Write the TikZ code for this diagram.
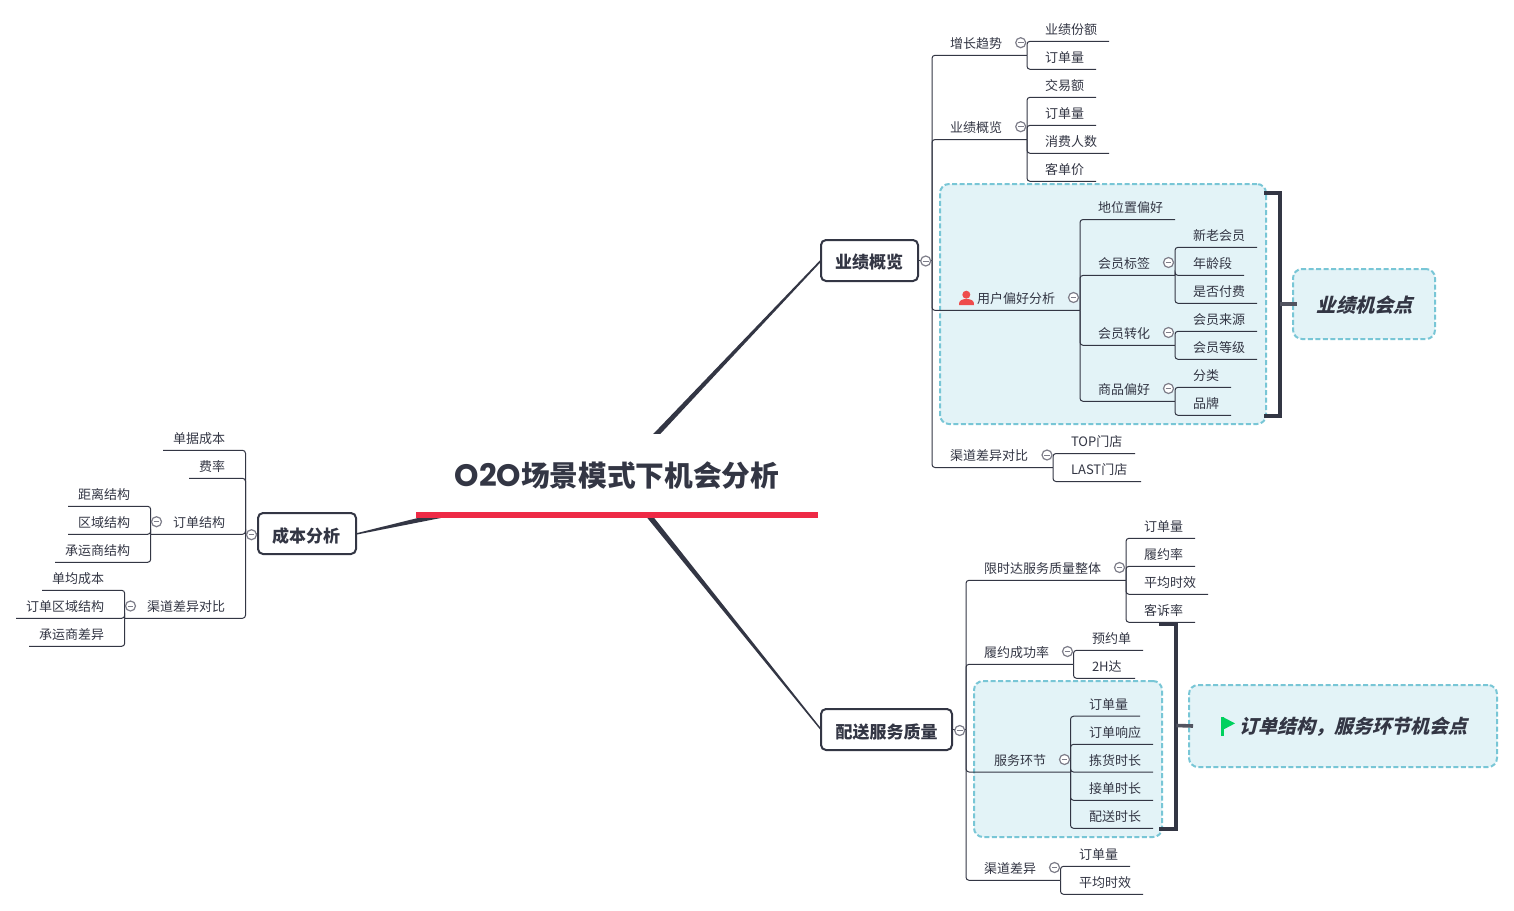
\documentclass[tikz,border=0pt]{standalone}
\usepackage{fontspec}
\setmainfont{Noto Sans CJK SC}
\newfontfamily\slbold[BoldFeatures={FakeSlant=0.25}]{Noto Sans CJK SC}
\newfontfamily\titlelatin{Poppins}
\definecolor{ink}{HTML}{333644}
\definecolor{teal}{HTML}{78C6D6}
\definecolor{pale}{HTML}{E3F3F7}
\definecolor{knob}{HTML}{7E7E8A}
\definecolor{rule}{HTML}{EE2A46}
\definecolor{usr}{HTML}{EE4C4C}
\definecolor{flagc}{HTML}{00D15E}
\tikzset{
  x=1pt,y=-1pt,
  conn/.style={draw=ink,line width=1pt,rounded corners=3pt},
  lbl/.style={inner sep=0pt,outer sep=0pt,text=ink,font=\fontsize{13}{13}\selectfont},
  topicbox/.style={draw=ink,line width=2pt,rounded corners=5pt,fill=white,inner sep=0pt,outer sep=0pt},
  topictext/.style={inner sep=0pt,outer sep=0pt,text=ink,font=\fontsize{17}{17}\selectfont\bfseries},
  zone/.style={draw=teal,fill=pale,line width=2pt,dash pattern=on 5pt off 2.5pt,rounded corners=9pt,inner sep=0pt,outer sep=0pt},
  knobc/.style={circle,draw=knob,line width=1.2pt,fill=white,minimum size=10pt,inner sep=0pt,outer sep=0pt,
    path picture={\draw[knob,line width=1pt] ([xshift=-2.8pt]path picture bounding box.center) -- ([xshift=2.8pt]path picture bounding box.center);}},
  brk/.style={draw=ink,line width=4pt,line join=miter},
  stub/.style={draw=ink!85!white,line width=3.6pt},
  taper/.style={fill=ink,draw=none},
}
% id, parent, x end, y, text x, text: text right of its x
\newcommand{\rtw}[6]{\node[lbl,anchor=west] (#1) at (#5,{#4-11.6}) {#6};
  \coordinate (#1-e) at (#3,#4);
  \draw[conn] (#2) |- (#1-e);}
% same, text ends at its x
\newcommand{\ltw}[6]{\node[lbl,anchor=east] (#1) at (#5,{#4-11.6}) {#6};
  \coordinate (#1-e) at (#3,#4);
  \draw[conn] (#2) |- (#1-e);}
\newcommand{\knb}[3]{\node[knobc] (#1) at (#2,#3) {};}
\begin{document}
\begin{tikzpicture}
\useasboundingbox (0,0) rectangle (1514,910);
\fill[white] (0,0) rectangle (1514,910);

% tapered main connectors
\coordinate (hub) at (617,476);
\coordinate (hubA1) at (614.8,474); \coordinate (hubA2) at (619.2,478);
\coordinate (hubB1) at (614.6,477.9); \coordinate (hubB2) at (619.4,474.1);
\coordinate (hubC1) at (615.6,469); \coordinate (hubC2) at (618.4,483);

% topic boxes
\node[topicbox,minimum width=97pt,minimum height=41pt] (perf) at (869.5,260.5) {};
\node[topicbox,minimum width=131pt,minimum height=41pt] (svc) at (886.5,729.5) {};
\node[topicbox,minimum width=98pt,minimum height=41pt] (cost) at (307,533.5) {};
\node[topictext] (perfT) at (869,262) {业绩概览};
\node[topictext] (svcT) at (886.5,732) {配送服务质量};
\node[topictext] (costT) at (306,536) {成本分析};

\fill[taper] (hubA1) -- ([xshift=-.6pt,yshift=.6pt]perf.west) -- ([xshift=.6pt,yshift=-.6pt]perf.west) -- (hubA2) -- cycle;
\fill[taper] (hubB1) -- ([xshift=-.5pt,yshift=-.5pt]svc.west) -- ([xshift=.5pt,yshift=.5pt]svc.west) -- (hubB2) -- cycle;
\fill[taper] (hubC1) -- ([yshift=.2pt]cost.east) -- ([yshift=-1.2pt]cost.east) -- (hubC2) -- cycle;

% central topic
\node[fill=white,inner sep=0pt,outer sep=0pt,minimum width=402pt,minimum height=78pt] (root) at (617,473) {};
\node[text=ink,inner sep=0pt,font=\fontsize{28.7}{29}\selectfont\bfseries] (title) at (617,476) {{\titlelatin\fontsize{31}{31}\selectfont\bfseries O2O}场景模式下机会分析};
\fill[rule] (416,512) rectangle (818,518);

% highlighted zones
\node[zone,minimum width=326pt,minimum height=240pt] (zoneA) at (1103,304) {};
\node[zone,minimum width=188pt,minimum height=156pt] (zoneB) at (1068,759) {};
\node[zone,minimum width=142pt,minimum height=70pt] (noteA) at (1364,304) {};
\node[zone,minimum width=308pt,minimum height=82pt] (noteB) at (1343,726) {};

% ---- upper right
\coordinate (perfJ) at (932,260.5);
\draw[conn] (perf.east) -- (perfJ);
\rtw{t1}{perfJ}{1027}{55.3}{950}{增长趋势}
\rtw{t1a}{t1-e}{1109}{41.3}{1045}{业绩份额}
\rtw{t1b}{t1-e}{1096}{69.3}{1045}{订单量}
\knb{k1}{1020.7}{42.7}
\rtw{t2}{perfJ}{1027}{139.5}{950}{业绩概览}
\rtw{t2a}{t2-e}{1096}{97.3}{1045}{交易额}
\rtw{t2b}{t2-e}{1096}{125.3}{1045}{订单量}
\rtw{t2c}{t2-e}{1109}{153.3}{1045}{消费人数}
\rtw{t2d}{t2-e}{1096}{181.3}{1045}{客单价}
\knb{k2}{1020.7}{126.7}
\rtw{t3}{perfJ}{1080}{310.4}{977}{用户偏好分析}
\knb{k3}{1073.5}{297.5}
\fill[usr] (966.3,294.7) circle (4pt);
\fill[usr] (959,305) .. controls (958.5,300.5) and (962,299) .. (966.5,299) .. controls (971,299) and (974.5,300.5) .. (974,305) -- cycle;
\rtw{t3a}{t3-e}{1175}{219.5}{1098}{地位置偏好}
\rtw{t3b}{t3-e}{1175}{275.4}{1098}{会员标签}
\rtw{t3b1}{t3b-e}{1257}{247.3}{1193}{新老会员}
\rtw{t3b2}{t3b-e}{1244}{275.4}{1193}{年龄段}
\rtw{t3b3}{t3b-e}{1257}{303.3}{1193}{是否付费}
\knb{k4}{1168.5}{262.5}
\rtw{t3c}{t3-e}{1175}{345.3}{1098}{会员转化}
\rtw{t3c1}{t3c-e}{1257}{331.3}{1193}{会员来源}
\rtw{t3c2}{t3c-e}{1257}{359.3}{1193}{会员等级}
\knb{k5}{1168.5}{332.5}
\rtw{t3d}{t3-e}{1175}{401.3}{1098}{商品偏好}
\rtw{t3d1}{t3d-e}{1231}{387.3}{1193}{分类}
\rtw{t3d2}{t3d-e}{1231}{415.3}{1193}{品牌}
\knb{k6}{1168.5}{388.5}
\rtw{t4}{perfJ}{1053}{467.5}{950}{渠道差异对比}
\rtw{t4a}{t4-e}{1135}{453.5}{1071}{TOP门店}
\rtw{t4b}{t4-e}{1141}{481.5}{1071}{LAST门店}
\knb{k7}{1047}{455}
\knb{k8}{925.7}{261}

% bracket A
\coordinate (ba1) at (1264,192.5); \coordinate (ba2) at (1280,192.5);
\coordinate (ba3) at (1280,416); \coordinate (ba4) at (1264,416);
\coordinate (bam) at (1280,304);
\draw[brk] (ba1) -- (ba2) -- (ba3) -- (ba4);
\draw[stub] (bam) -- ([xshift=4pt]noteA.west);
\node[text=ink,inner sep=0pt,font=\fontsize{19.3}{20}\selectfont] (noteAt) at (1365,305) {\slbold\bfseries 业绩机会点};

% ---- lower right
\coordinate (svcJ) at (966,729.5);
\draw[conn] (svc.east) -- (svcJ);
\rtw{s1}{svcJ}{1126}{580.3}{984}{限时达服务质量整体}
\rtw{s1a}{s1-e}{1195}{538.3}{1144}{订单量}
\rtw{s1b}{s1-e}{1195}{566.3}{1144}{履约率}
\rtw{s1c}{s1-e}{1208}{594.3}{1144}{平均时效}
\rtw{s1d}{s1-e}{1195}{622.3}{1144}{客诉率}
\knb{m1}{1119.5}{567.5}
\rtw{s2}{svcJ}{1073.5}{664.3}{984}{履约成功率}
\rtw{s2a}{s2-e}{1143}{650.3}{1092}{预约单}
\rtw{s2b}{s2-e}{1135}{678.3}{1092}{2H达}
\knb{m2}{1067.5}{651.5}
\rtw{s3}{svcJ}{1070.5}{772}{994}{服务环节}
\rtw{s3a}{s3-e}{1140}{716.2}{1089}{订单量}
\rtw{s3b}{s3-e}{1153}{744.3}{1089}{订单响应}
\rtw{s3c}{s3-e}{1153}{772}{1089}{拣货时长}
\rtw{s3d}{s3-e}{1153}{800.3}{1089}{接单时长}
\rtw{s3e}{s3-e}{1153}{828.3}{1089}{配送时长}
\knb{m3}{1064.5}{759.5}
\rtw{s4}{svcJ}{1060.5}{880.3}{984}{渠道差异}
\rtw{s4a}{s4-e}{1130}{866.3}{1079}{订单量}
\rtw{s4b}{s4-e}{1143}{894.3}{1079}{平均时效}
\knb{m4}{1054.5}{867.5}
\knb{m5}{959.7}{730.5}

% bracket B
\coordinate (bb1) at (1159,624); \coordinate (bb2) at (1176.3,624);
\coordinate (bb3) at (1176.3,828.7); \coordinate (bb4) at (1159,828.7);
\coordinate (bbm) at (1176.3,725.5);
\draw[brk] (bb1) -- (bb2) -- (bb3) -- (bb4);
\draw[stub] (bbm) -- ([xshift=4pt]noteB.west);
\fill[flagc] (1220.7,717.3) rectangle (1224,735.7);
\fill[flagc] (1224,717.6) -- (1235,723.4) -- (1224,729.2) -- cycle;
\node[text=ink,inner sep=0pt,anchor=west,font=\fontsize{19}{20}\selectfont] (noteBt) at (1239.5,727) {\slbold\bfseries 订单结构，服务环节机会点};

% ---- left
\coordinate (costJ) at (245.5,534.3);
\draw[conn] (cost.west) -- (costJ);
\ltw{c1}{costJ}{163}{450.3}{225}{单据成本}
\ltw{c2}{costJ}{189}{478.3}{225}{费率}
\ltw{c3}{costJ}{150.7}{534.3}{225}{订单结构}
\ltw{c3a}{c3-e}{68}{506.3}{130}{距离结构}
\ltw{c3b}{c3-e}{68}{534.3}{130}{区域结构}
\ltw{c3c}{c3-e}{55}{562.3}{130}{承运商结构}
\knb{n1}{156.5}{521.7}
\ltw{c4}{costJ}{124.7}{618.3}{225}{渠道差异对比}
\ltw{c4a}{c4-e}{42}{590.3}{104}{单均成本}
\ltw{c4b}{c4-e}{16}{618.3}{104}{订单区域结构}
\ltw{c4c}{c4-e}{29}{646.3}{104}{承运商差异}
\knb{n2}{130.5}{606}
\knb{n3}{251.5}{534.7}
\end{tikzpicture}
\end{document}
